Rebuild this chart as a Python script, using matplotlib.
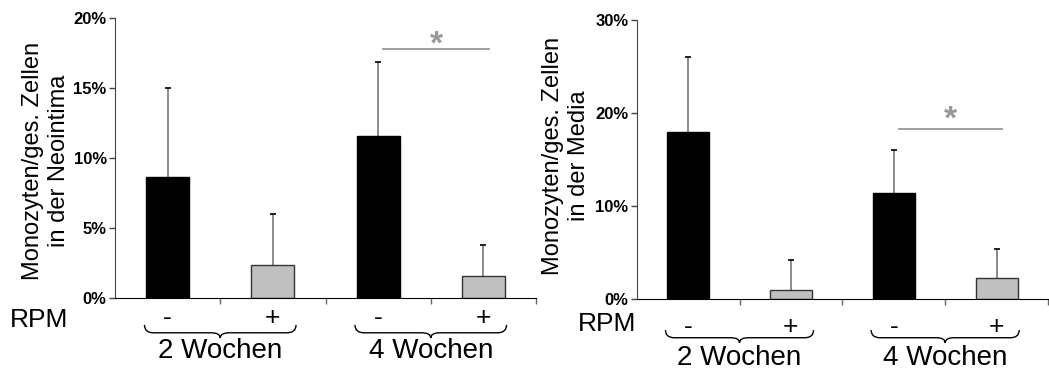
import matplotlib
matplotlib.use("Agg")
import matplotlib.pyplot as plt
import numpy as np
from matplotlib.path import Path
from matplotlib.patches import PathPatch
from matplotlib.ticker import FuncFormatter
from matplotlib.transforms import blended_transform_factory

plt.rcParams['font.family'] = ['Liberation Sans', 'DejaVu Sans']

# data (percent)
rpm_labels = ['-', '+', '-', '+']
group_labels = ['2 Wochen', '4 Wochen']
neointima_mean = [8.7, 2.4, 11.6, 1.6]
neointima_err = [6.3, 3.6, 5.3, 2.2]
media_mean = [18.0, 1.0, 11.4, 2.3]
media_err = [8.0, 3.2, 4.6, 3.1]
bar_colors = ['black', '#c0c0c0', 'black', '#c0c0c0']
edge_colors = ['black', '#333333', 'black', '#333333']

W, H = 1049, 371
fig = plt.figure(figsize=(W / 100, H / 100), dpi=100)


def px_axes(x0, x1, y0, y1):
    # pixel box (from top-left) -> figure fraction axes
    return fig.add_axes([x0 / W, 1 - y1 / H, (x1 - x0) / W, (y1 - y0) / H])


def brace(ax, xa, xb, ytop, ybot):
    trans = blended_transform_factory(ax.transData, ax.transAxes)
    yf = ytop + (ybot - ytop) * 0.6
    xm = (xa + xb) / 2
    d = (xb - xa) * 0.06
    verts = [(xa, ytop), (xa, yf), (xa + d, yf),
             (xm - d, yf),
             (xm, yf), (xm, ybot),
             (xm, yf), (xm + d, yf),
             (xb - d, yf),
             (xb, yf), (xb, ytop)]
    codes = [Path.MOVETO, Path.CURVE3, Path.CURVE3,
             Path.LINETO,
             Path.CURVE3, Path.CURVE3,
             Path.CURVE3, Path.CURVE3,
             Path.LINETO,
             Path.CURVE3, Path.CURVE3]
    p = PathPatch(Path(verts, codes), transform=trans, fill=False,
                  edgecolor='black', lw=1.0, clip_on=False)
    ax.add_patch(p)


def panel(ax, means, errs, ymax, step, sig_y, star_y, ylabel, lab_xy, rpm_xy,
          sign_y, brace_y, group_y):
    x = np.arange(len(means))
    ax.errorbar(x, means, yerr=[np.zeros(len(errs)), errs], fmt='none',
                ecolor='#777777', elinewidth=1.2, capsize=0, zorder=1)
    ax.plot(x, np.array(means) + np.array(errs), linestyle='none',
            marker='_', markersize=4, color='black', mew=1.2, zorder=1)
    ax.bar(x, means, width=0.41, color=bar_colors, edgecolor=edge_colors,
           linewidth=1.0, zorder=2)
    ax.set_xlim(-0.5, 3.5)
    ax.set_ylim(0, ymax)
    ax.set_yticks(np.arange(0, ymax + 0.1, step))
    ax.yaxis.set_major_formatter(FuncFormatter(lambda v, p: '%d%%' % v))
    ax.set_xticks([0.5, 1.5, 2.5, 3.5])
    ax.set_xticklabels([])
    for s in ['top', 'right']:
        ax.spines[s].set_visible(False)
    ax.spines['left'].set_color('#444444')
    ax.spines['bottom'].set_color('black')
    ax.tick_params(axis='y', length=4, width=1, pad=2, labelsize=12,
                   color='#444444')
    ax.tick_params(axis='x', length=4, width=1, color='#666666')
    for t in ax.get_yticklabels():
        t.set_fontweight('bold')

    # significance
    ax.plot([2.05, 3.05], [sig_y, sig_y], color='#999999', lw=1.3,
            clip_on=False)
    ax.text(2.55, star_y, '*', color='#999999', fontsize=24,
            fontweight='bold', ha='center', va='baseline')

    trans = blended_transform_factory(ax.transData, ax.transAxes)
    for xi, lab in zip(x, rpm_labels):
        ax.text(xi, sign_y, lab, fontsize=19, ha='center', va='center',
                transform=trans)
    for g, lab in enumerate(group_labels):
        c = 2 * g + 0.5
        brace(ax, c - 0.72, c + 0.72, brace_y[0], brace_y[1])
        ax.text(c, group_y, lab, fontsize=20, ha='center', va='center',
                transform=trans)

    fig.text(lab_xy[0] / W, 1 - lab_xy[1] / H, ylabel, rotation=90,
             fontsize=17, ha='center', va='center', multialignment='center')
    fig.text(rpm_xy[0] / W, 1 - rpm_xy[1] / H, 'RPM', fontsize=19,
             ha='center', va='center')


ax1 = px_axes(115, 536, 18.3, 298.3)
panel(ax1, neointima_mean, neointima_err, 20, 5, 17.8, 17.5,
      'Monozyten/ges. Zellen\nin der Neointima', (46, 161), (39, 320),
      -0.07, (-0.095, -0.142), -0.19)

ax2 = px_axes(636.7, 1048, 20, 299.3)
panel(ax2, media_mean, media_err, 30, 10, 18.3, 18.3,
      'Monozyten/ges. Zellen\nin der Media', (566, 156), (607, 324),
      -0.098, (-0.11, -0.156), -0.21)

fig.savefig('out.png', dpi=100)
